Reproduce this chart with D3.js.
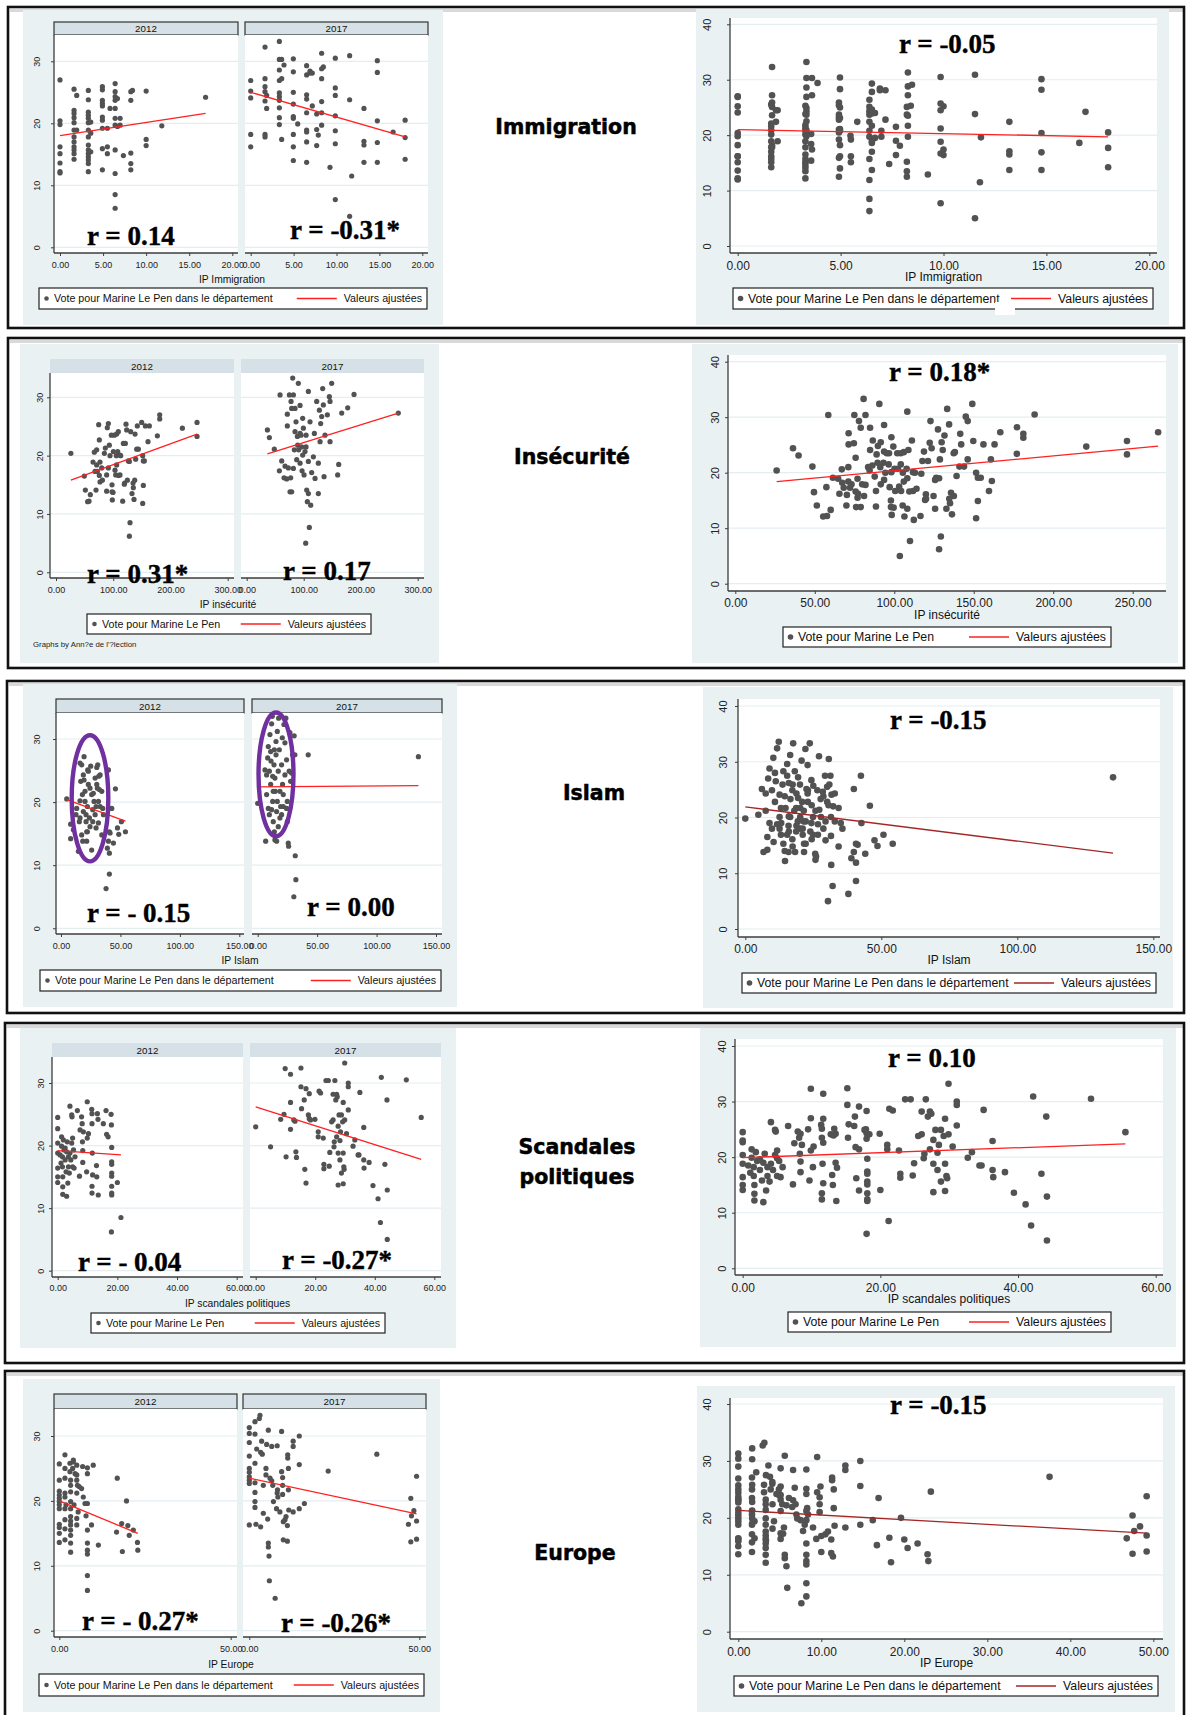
<!DOCTYPE html>
<html><head><meta charset="utf-8">
<script src="https://cdn.jsdelivr.net/npm/d3@7"></script>
<style>body{margin:0;background:#fff}svg{display:block}</style>
</head><body>
<svg id="c" width="1186" height="1715"></svg>
<script>
// ---------------- DATA ----------------
const topicNames = ["Immigration", "Insécurité", "Islam", "Scandales politiques", "Europe"];
const xTitles = ["IP Immigration", "IP insécurité", "IP Islam", "IP scandales politiques", "IP Europe"];
const facetYears = ["2012", "2017"];
const facetYTicks = [0, 10, 20, 30];
const combinedYTicks = [0, 10, 20, 30, 40];
const legendLong = "Vote pour Marine Le Pen dans le département";
const legendShort = "Vote pour Marine Le Pen";
const legendFit = "Valeurs ajustées";
const graphsNote = "Graphs by Ann?e de l'?lection";

const immigrationTicks = [0, 5, 10, 15, 20];
const insecuriteFacetTicks = [0, 100, 200, 300];
const insecuriteTicks = [0, 50, 100, 150, 200, 250];
const islamTicks = [0, 50, 100, 150];
const scandalesTicks = [0, 20, 40, 60];
const europeFacetTicks = [0, 50];
const europeTicks = [0, 10, 20, 30, 40, 50];

// r labels: [2012, 2017, all]
const immigrationR = ["r = 0.14", "r = -0.31*", "r = -0.05"];
const insecuriteR = ["r = 0.31*", "r = 0.17", "r = 0.18*"];
const islamR = ["r = - 0.15", "r = 0.00", "r = -0.15"];
const scandalesR = ["r = - 0.04", "r = -0.27*", "r = 0.10"];
const europeR = ["r = - 0.27*", "r = -0.26*", "r = -0.15"];

// fitted values at min and max x: [2012, 2017, all]
const immigrationFit = [[18.0, 21.6], [25.0, 17.8], [21.0, 19.7]];
const insecuriteFit = [[15.8, 23.7], [20.3, 27.3], [18.4, 24.8]];
const islamFit = [[20.4, 17.0], [22.4, 22.6], [21.9, 13.6]];
const scandalesFit = [[19.2, 18.5], [26.2, 17.8], [19.9, 22.4]];
const europeFit = [[20.0, 15.0], [23.5, 18.0], [21.3, 17.3]];

// circled clusters (Islam): [cx, cy, rx, ry] in data units
const islamEllipses = [[24.4, 20.6, 15.4, 10.0], [15.4, 24.4, 14.7, 9.8]];

const immigration2012 = [[0,27.0],[0,20.4],[0,19.8],[0,16.2],[0,15.1],[0,13.6],[0,12.2],[0,12.0],
[1.63,25.5],[1.63,22.1],[1.63,21.6],[1.63,20.9],[1.63,20.1],[1.63,18.9],[1.63,17.8],[1.63,17.0],[1.63,16.2],[1.63,15.7],[1.63,15.1],[1.63,14.2],[1.94,24.5],[1.94,18.9],
[3.29,25.3],[3.29,23.8],[3.29,21.8],[3.29,21.3],[3.29,20.8],[3.29,20.1],[3.29,18.9],[3.29,17.8],[3.29,16.5],[3.29,15.7],[3.29,15.1],[3.29,14.6],[3.29,14.1],[3.29,13.5],[3.29,12.2],[3.57,18.4],[3.57,20.2],[3.57,15.4],
[4.92,25.9],[4.92,25.4],[4.92,23.7],[4.92,23.2],[4.92,22.8],[4.92,21.0],[4.92,20.5],[4.92,19.2],[4.92,15.9],[4.92,12.5],[5.5,19.2],[5.5,16.2],[5.5,15.1],[5.81,22.4],
[6.4,26.4],[6.4,25.1],[6.4,24.3],[6.4,23.7],[6.4,22.4],[6.4,20.8],[6.4,19.7],[6.4,15.7],[6.4,11.9],[6.4,8.5],[6.4,6.3],[6.67,24.0],[6.67,19.5],[6.98,20.8],[6.98,19.7],[7.36,14.8],
[8.22,25.1],[8.22,23.7],[8.22,15.2],[8.22,13.5],[8.22,12.5],[8.41,25.3],
[10.0,25.2],[10.0,17.4],[10.0,16.4],[11.82,19.6],[16.9,24.2]];
const immigration2017 = [[0,26.9],[0,25.2],[0,24.1],[0,18.2],[0,16.2],
[1.67,32.3],[1.67,27.2],[1.67,25.9],[1.67,25.1],[1.67,23.6],[1.67,18.2],[1.67,17.8],[1.86,22.4],[1.86,24.5],
[3.34,33.2],[3.34,30.3],[3.34,28.6],[3.34,26.9],[3.34,24.9],[3.34,24.3],[3.34,23.7],[3.34,22.5],[3.34,20.9],[3.34,19.8],[3.61,30.3],[3.61,27.2],[3.61,17.4],[3.88,29.4],
[4.97,30.4],[4.97,28.3],[4.97,25.0],[4.97,23.1],[4.97,21.1],[4.97,20.8],[4.97,18.2],[4.97,16.2],[4.97,14.0],[5.48,19.9],
[6.52,29.3],[6.52,27.8],[6.52,24.6],[6.52,23.9],[6.52,21.7],[6.52,18.9],[6.52,18.6],[6.52,17.0],[6.52,13.7],[6.91,28.4],[6.91,28.1],[7.18,28.1],[7.18,22.8],
[7.69,21.5],[7.69,19.0],[7.69,16.4],[7.88,18.1],
[8.27,31.3],[8.27,28.8],[8.27,27.2],[8.27,23.5],[8.27,21.7],[8.27,19.7],[8.47,29.1],
[9.24,12.9],
[9.86,30.5],[9.86,25.7],[9.86,24.5],[9.86,21.2],[9.86,18.8],[9.86,16.7],[9.86,7.7],
[11.53,30.9],[11.53,23.8],[11.53,5.0],[11.77,11.5],
[13.2,22.4],[13.2,17.1],[13.2,16.5],[13.2,13.7],
[14.76,30.1],[14.76,28.2],[14.76,20.4],[14.76,16.9],[14.76,13.7],
[16.6,18.6],[18.0,20.5],[18.0,17.7],[18.0,14.2]];

const insecurite2012 = [[26,20.4],[49.5,16.5],[51.3,14.1],[55.3,12.1],[57.7,12.2],[60,13.3],[64.7,18.9],[67,20.6],[68.2,17.3],[69.9,14.1],[71.1,21.0],[71.1,18.4],[72.2,17.3],[74.6,25.3],[75.7,22.7],[75.7,16.6],[76.9,15.5],[76.9,18.9],[79.8,17.9],[81,15.8],[84.5,20.4],[86.2,21.3],[88.5,13.9],[88.5,16.7],[89.7,24.8],[91.5,25.5],[91.5,17.9],[93.2,21.8],[94.4,20.0],[96.7,23.5],[97.9,13.8],[97.9,15.0],[98.4,12.4],[99.6,13.7],[100.2,20.7],[101.9,23.5],[103.1,17.5],[104.3,16.7],[105.4,20.0],[106,23.7],[106,18.4],[107.8,20.7],[108.9,24.1],[109.5,16.6],[111.8,20.1],[111.8,16.7],[113,20.0],[116.5,12.2],[117.7,22.1],[119.4,15.1],[120,15.3],[121.2,22.1],[122.3,25.4],[123.5,24.4],[124.7,15.8],[126.4,19.1],[128.2,19.0],[129.3,8.5],[128.2,6.2],[130.5,24.1],[132.8,13.5],[134.6,15.3],[135.1,14.5],[136.3,12.5],[137.5,15.8],[138.1,23.7],[139.2,19.4],[141,21.1],[142.1,25.1],[143.9,21.1],[149.7,25.7],[151.5,20.0],[151.5,11.8],[152.6,14.9],[152.6,19.1],[154.4,19.1],[156.1,25.1],[160.8,22.4],[163.1,25.1],[177.1,23.4],[181.2,26.3],[181.2,27.0],[220.8,24.7],[246.4,25.7],[246.4,23.3]];
const insecurite2017 = [[36.3,24.4],[39.8,23.1],[48.5,21.1],[58.5,30.4],[57.3,17.4],[61.4,19.1],[65.5,16.2],[67.3,18.2],[70.2,16.0],[71.3,25.1],[71.3,27.1],[73.1,17.9],[74.9,30.4],[76,13.8],[77.2,16.2],[77.8,29.3],[78.9,28.1],[78.9,13.8],[80.7,33.3],[81.9,30.4],[81.9,17.8],[83.6,21.0],[84.8,28.1],[84.8,24.1],[86.5,25.8],[87.7,19.3],[88.9,23.3],[89.5,21.8],[90.6,32.4],[91.2,21.0],[93.6,28.6],[93.6,23.8],[93.6,18.7],[95.3,23.5],[96.5,21.5],[97.1,17.4],[98.2,20.1],[98.2,26.4],[99.4,24.7],[100.6,16.7],[102.3,20.7],[104.1,23.5],[104.1,21.5],[105.3,14.1],[106.4,12.1],[108.2,31.0],[108.2,19.0],[108.2,13.5],[109.9,7.7],[103.5,5.0],[111.1,25.8],[112.3,11.5],[114,17.1],[117,19.8],[118.7,23.8],[119.9,16.1],[122.8,29.3],[125.7,18.7],[125.7,13.5],[127.5,27.8],[128.7,22.4],[129.8,25.5],[131.6,26.7],[133.3,31.5],[134.5,28.7],[135.7,16.4],[137.4,23.5],[141.5,27.0],[145,30.1],[146.2,29.3],[146.2,22.4],[149.1,32.4],[161.4,18.5],[159.6,16.7],[166.7,27.3],[177.2,28.2],[188.3,30.5],[266,27.3]];

const islam2012 = [[4.8,20.5],[8.1,16.5],[8.1,14.2],[10.4,15.6],[12.6,18.0],[13.2,19.0],[14.6,12.2],[15.4,16.9],[16,26.2],[16,20.2],[16,17.5],[16.6,23.3],[17.4,25.9],[17.4,14.8],[18,21.2],[18.3,13.8],[18.8,18.5],[18.8,24.3],[19.4,27.2],[19.4,23.5],[20.2,21.7],[20.2,20.1],[21.1,16.9],[21.1,18.0],[21.6,15.3],[21.6,13.8],[22.2,19.3],[22.2,15.3],[22.5,25.1],[23,22.8],[23,24.9],[23.9,17.5],[24.4,16.1],[24.4,22.2],[25,25.7],[25.8,12.4],[25.8,21.2],[26.7,18.8],[26.7,16.9],[27.2,21.4],[27.8,20.1],[28.7,23.8],[28.7,18.0],[29.5,15.9],[29.5,19.3],[30.1,25.5],[30.1,22.8],[30.6,22.2],[30.9,25.9],[31.5,16.7],[31.5,20.1],[31.7,24.1],[32.3,22.0],[32.9,19.3],[32.9,24.3],[34.3,14.8],[34.3,21.7],[35.1,19.0],[35.7,18.0],[37.9,6.3],[39,12.7],[39.9,25.1],[39.9,13.8],[40.7,11.9],[40.7,15.3],[40.7,8.6],[41.3,15.1],[42.7,19.0],[44.1,13.5],[45.8,22.1],[47.5,15.9],[48.6,14.9],[50.8,16.9],[54.2,15.3]];
const islam2017 = [[0,19.8],[6.1,25.1],[6.7,13.8],[7.5,24.3],[7.5,21.2],[8.4,27.0],[8.9,28.8],[8.9,19.0],[9.8,24.9],[9.8,18.0],[10.3,30.7],[10.9,22.8],[10.9,28.0],[11.2,26.5],[11.7,32.4],[11.7,18.8],[12.3,33.6],[12.6,20.1],[12.6,24.1],[13.1,16.9],[13.1,21.7],[13.7,25.9],[14,28.3],[14,15.3],[14.5,23.8],[14.5,14.0],[14.8,21.7],[15.4,29.6],[15.4,27.5],[15.9,18.5],[15.9,13.8],[16.5,31.2],[16.5,20.1],[17.3,24.9],[17.3,16.1],[17.6,33.3],[18.2,28.3],[18.7,21.7],[18.7,17.5],[19.3,19.3],[20.1,25.9],[20.1,18.0],[20.7,30.2],[20.9,22.8],[21.5,19.3],[21.5,21.2],[22.1,32.3],[22.9,29.4],[22.9,24.3],[23.7,33.3],[24.3,26.7],[24.3,19.0],[24.9,16.9],[24.9,20.1],[25.7,13.5],[26,13.0],[26.5,24.9],[27.1,31.0],[27.7,23.3],[28.5,24.6],[29.3,27.5],[30.4,5.0],[30.7,30.5],[31.3,27.5],[31.6,11.5],[32.1,7.7],[42.5,27.5],[135.2,27.2]];

const scandales2012 = [[0,24.5],[0,22.7],[0,20.4],[0,18.8],[0,16.4],[0,15.0],[0,14.1],[0.8,18.5],[1.1,17.2],[1.3,21.4],[1.3,19.9],[1.6,18.2],[1.6,16.6],[1.7,15.0],[1.7,13.4],[1.7,12.2],[1.9,20.9],[2.1,19.3],[2.5,19.6],[2.5,17.7],[2.8,15.8],[3.0,11.9],[3.0,19.0],[3.2,20.6],[3.4,14.0],[3.6,18.2],[3.6,16.6],[3.9,15.6],[4.1,26.3],[4.1,18.8],[4.4,17.7],[4.7,24.9],[4.7,20.4],[4.8,24.6],[5.0,21.2],[5.0,16.6],[5.3,19.3],[5.5,16.4],[5.8,18.2],[6.6,25.6],[7.3,15.1],[7.5,22.5],[8.0,24.6],[8.2,23.5],[8.3,20.6],[8.4,19.2],[8.4,17.3],[8.6,22.2],[9.7,15.8],[9.9,27.0],[9.9,21.2],[10.3,21.9],[11.4,25.8],[11.5,25.1],[11.5,23.5],[11.6,18.8],[11.7,15.3],[11.5,13.5],[11.5,12.4],[13.0,16.8],[13.1,15.0],[13.3,25.1],[13.5,24.2],[13.6,12.1],[15.3,23.5],[16.2,25.6],[16.4,21.8],[16.9,21.4],[17.9,25.0],[18.0,23.3],[18.1,19.7],[18.1,17.4],[18.1,17.0],[18.1,15.6],[18.1,15.1],[18.1,13.5],[18.1,12.4],[18.1,12.1],[20.0,14.1],[18.0,6.2],[21.2,8.5]];
const scandales2017 = [[0,23.0],[5.0,19.8],[8.4,24.2],[9.5,25.0],[9.9,32.3],[10.2,18.2],[11.7,31.4],[11.7,26.9],[11.7,22.6],[12.8,24.1],[13.2,23.9],[13.5,19.0],[13.7,18.1],[15.2,32.4],[15.2,29.4],[15.4,25.9],[16.3,27.3],[16.5,16.2],[16.9,29.1],[16.9,14.0],[17.7,24.9],[18.0,28.3],[18.0,24.3],[18.4,24.1],[19.9,24.2],[21.0,22.2],[21.3,28.7],[21.8,28.4],[21.0,21.4],[22.7,21.2],[22.9,17.0],[22.9,16.3],[23.6,30.4],[24.4,30.4],[24.7,16.7],[24.9,18.9],[25.5,23.8],[26.0,28.2],[26.0,24.1],[26.3,19.8],[26.4,20.6],[26.6,30.4],[26.9,27.3],[27.2,28.2],[27.2,21.4],[27.4,27.8],[27.7,23.1],[27.7,18.8],[27.7,13.7],[28.0,24.9],[28.3,17.7],[28.3,20.8],[28.5,22.2],[28.8,24.9],[28.8,15.6],[29.2,23.8],[29.4,26.9],[29.4,18.8],[29.4,13.9],[29.6,16.6],[29.7,16.2],[29.9,33.2],[29.9,24.1],[30.5,21.9],[31.1,30.0],[31.1,29.4],[31.1,25.7],[32.7,19.9],[33.3,20.9],[34.4,18.5],[34.7,18.5],[35.0,28.5],[36.3,22.9],[36.3,17.7],[36.4,16.4],[38.1,17.3],[39.4,13.6],[41.1,11.5],[41.9,7.7],[42.2,30.9],[43.4,17.0],[44.1,27.3],[44.2,12.9],[44.2,5.0],[50.6,30.5],[55.6,24.5]];

const europe2012 = [[0,25.7],[0,23.2],[0,21.5],[0,20.9],[0,20.4],[0,19.9],[0,19.4],[0,18.8],[0,16.4],[0,15.9],[0,15.0],[0,13.6],[1.65,27.1],[1.65,25.0],[1.65,23.5],[1.65,21.2],[1.65,20.6],[1.65,18.8],[1.65,17.1],[1.65,15.7],[1.65,14.0],[1.95,19.4],[3.1,25.8],[3.1,24.5],[3.3,23.2],[3.3,22.4],[3.3,21.4],[3.3,19.9],[3.3,18.8],[3.3,17.6],[3.3,16.9],[3.3,16.3],[3.3,15.5],[3.3,14.7],[3.3,13.5],[3.3,12.1],[3.9,25.0],[4.1,26.0],[4.1,26.3],[4.3,19.4],[4.6,24.2],[5.1,25.5],[5.1,24.0],[5.1,23.2],[5.1,21.2],[5.1,17.3],[5.1,16.3],[5.5,18.3],[5.3,22.4],[5.8,22.2],[6.5,21.9],[6.8,25.3],[7.0,20.6],[7.5,19.6],[7.8,17.7],[8.2,25.1],[8.2,24.2],[8.2,19.6],[8.2,15.5],[8.2,13.5],[8.2,12.4],[8.2,11.8],[8.2,8.5],[8.2,6.2],[9.4,16.3],[9.9,25.5],[11.4,13.2],[16.7,15.2],[16.9,23.5],[18.2,16.5],[18.4,12.2],[19.6,20.0],[20.0,16.2],[20.4,14.7],[21.6,15.5],[22.8,13.6],[22.9,12.4]];
const europe2017 = [[0,31.3],[0,30.4],[0,29.0],[0,26.9],[0,25.0],[0,24.4],[0,23.7],[0,23.2],[0,22.7],[0,16.3],[1.67,32.2],[1.67,30.3],[1.67,25.8],[1.67,22.8],[1.67,21.3],[1.67,19.9],[1.67,19.0],[1.96,16.4],[2.16,28.0],[2.94,32.7],[3.14,33.2],[3.33,27.5],[3.33,16.0],[3.63,29.2],[3.82,27.2],[4.12,22.4],[4.12,18.1],[4.9,25.0],[4.9,24.0],[5.1,28.7],[5.4,17.2],[5.6,30.9],[5.6,13.5],[5.6,12.9],[5.8,11.5],[5.9,7.7],[6.1,23.5],[6.6,23.1],[6.6,28.4],[6.9,22.4],[7.1,19.9],[7.6,5.0],[8.0,18.8],[8.2,28.5],[8.2,21.2],[8.3,21.7],[8.4,20.6],[9.0,18.3],[9.5,30.7],[9.5,24.5],[9.8,22.4],[9.8,21.0],[9.8,23.6],[10.0,14.0],[10.0,16.8],[10.5,17.1],[10.8,17.6],[11.2,13.8],[11.2,16.2],[11.3,27.1],[11.3,26.6],[11.5,25.0],[11.5,21.7],[11.6,18.6],[12.9,18.3],[12.9,28.4],[12.9,29.2],[14.7,25.6],[14.7,30.0],[14.7,18.8],[16.2,19.6],[23.2,24.6],[37.5,27.2],[46.8,16.4],[47.5,13.7],[47.5,20.4],[47.7,17.7],[48.4,18.5],[49.2,23.8],[49.2,16.9],[49.2,14.1]];

// ---------------- DRAWING ----------------
const svg = d3.select("#c");
const SANS = "'Liberation Sans', Arial, sans-serif";
const SERIF = "'Liberation Serif', 'Times New Roman', serif";
const DOT = "#525252";
const AX = "#3c3c3c";
const GRID = "#e4edf0";
const BG = "#eaf1f3";
const HEAD = "#d5e1e7";
const RED = "#ff2020";
const DARKRED = "#a32727";
const fmt = d3.format(".2f");

function rect(g, b, fill, stroke, sw) {
  return g.append("rect").attr("x", b[0]).attr("y", b[1]).attr("width", b[2]-b[0]).attr("height", b[3]-b[1])
    .attr("fill", fill).attr("stroke", stroke || "none").attr("stroke-width", sw || 1);
}

function drawPanel(g, o) {
  const [l, t, r, b] = o.plot;
  const x = d3.scaleLinear().domain([0, o.xMax]).range(o.xPx);
  const y = d3.scaleLinear().domain([0, o.yTop]).range(o.yPx);
  if (o.header) {
    rect(g, [l, o.header.top, r, t], HEAD, o.header.border ? "#333" : null, 1.2);
    g.append("text").attr("x", (l+r)/2).attr("y", (o.header.top+t)/2).attr("dy", "0.36em")
      .attr("text-anchor", "middle").attr("font-family", SANS).attr("font-size", 9.8).attr("fill", "#111").text(o.header.text);
  }
  rect(g, o.plot, "#fff");
  g.selectAll(null).data(o.yTicks).enter().append("line")
    .attr("x1", l).attr("x2", r).attr("y1", d => y(d)).attr("y2", d => y(d))
    .attr("stroke", GRID).attr("stroke-width", 1.2);
  g.selectAll(null).data(o.data).enter().append("circle")
    .attr("cx", d => x(d[0])).attr("cy", d => y(d[1])).attr("r", o.dotR).attr("fill", DOT);
  const ext = d3.extent(o.data, d => d[0]);
  g.append("line").attr("x1", x(ext[0])).attr("y1", y(o.fit[0])).attr("x2", x(ext[1])).attr("y2", y(o.fit[1]))
    .attr("stroke", o.fitColor).attr("stroke-width", 1.3);
  if (o.ellipse) {
    const e = o.ellipse;
    g.append("ellipse").attr("cx", x(e[0])).attr("cy", y(e[1]))
      .attr("rx", x(e[2]) - x(0)).attr("ry", y(0) - y(e[3]))
      .attr("fill", "none").attr("stroke", "#7030a0").attr("stroke-width", 4.4);
  }
  const xa = g.append("g").attr("transform", `translate(0,${b})`)
    .call(d3.axisBottom(x).tickValues(o.xTicks).tickFormat(fmt).tickSize(3).tickSizeOuter(0));
  xa.select(".domain").remove();
  xa.selectAll(".tick line").attr("stroke", AX);
  xa.selectAll(".tick text").attr("y", o.tickBase - b).attr("dy", 0)
    .attr("font-family", SANS).attr("font-size", o.tickFont).attr("fill", "#222");
  g.append("line").attr("x1", l).attr("x2", r).attr("y1", b).attr("y2", b).attr("stroke", AX).attr("stroke-width", 1.3);
  if (o.yAxis) {
    const ya = g.append("g").attr("transform", `translate(${l},0)`)
      .call(d3.axisLeft(y).tickValues(o.yTicks).tickFormat(d3.format("d")).tickSize(3).tickSizeOuter(0));
    ya.select(".domain").remove();
    ya.selectAll(".tick line").attr("stroke", AX);
    ya.selectAll(".tick text").attr("x", 0).attr("y", 0).attr("dy", "0.36em").attr("text-anchor", "middle")
      .attr("transform", `translate(${o.yLabelX - l},0) rotate(-90)`)
      .attr("font-family", SANS).attr("font-size", o.yFont).attr("fill", "#222");
    g.append("line").attr("x1", l).attr("x2", l).attr("y1", t).attr("y2", b).attr("stroke", AX).attr("stroke-width", 1.3);
  }
  g.append("text").attr("x", o.rPos[0]).attr("y", o.rPos[1]).attr("font-family", SERIF).attr("font-weight", "bold")
    .attr("font-size", 27).attr("fill", "#000").attr("stroke", "#000").attr("stroke-width", 0.4).text(o.rText);
}

function drawLegend(g, box, label, font, lineColor, dotR) {
  rect(g, box, "#fff", "#222", 1.2);
  const cy = (box[1] + box[3]) / 2;
  g.append("circle").attr("cx", box[0] + 7.5).attr("cy", cy).attr("r", dotR).attr("fill", DOT);
  g.append("text").attr("x", box[0] + 15).attr("y", cy).attr("dy", "0.36em").attr("font-family", SANS)
    .attr("font-size", font).attr("fill", "#111").text(label);
  const t = g.append("text").attr("x", box[2] - 5).attr("y", cy).attr("dy", "0.36em").attr("text-anchor", "end")
    .attr("font-family", SANS).attr("font-size", font).attr("fill", "#111").text(legendFit);
  const start = box[2] - 5 - t.node().getComputedTextLength();
  g.append("line").attr("x1", start - 47).attr("x2", start - 7).attr("y1", cy).attr("y2", cy)
    .attr("stroke", lineColor).attr("stroke-width", 1.3);
}

const rows = [
  { d12: immigration2012, d17: immigration2017, fit: immigrationFit, r: immigrationR,
    border: [8, 7, 1184, 328], bgL: [23, 10, 443, 325], bgR: [696, 9, 1169, 325],
    headTop: 22, headBorder: true, facets: [[54, 35, 238, 253], [245, 35, 428, 253]],
    fxPx: [[60, 232.3], [250.7, 422.3]], fxMax: 20, fTicks: immigrationTicks, fyPx: [247.3, 61.3], fyLabelX: 37,
    fTickBase: 267.5, fTitleBase: 282.5, rPosL: [[87, 245], [290, 239]],
    legL: [39, 288, 427, 309], legLabelL: legendLong,
    cPlot: [730, 18, 1157, 253], cxPx: [737.7, 1149.3], cxMax: 20, cTicks: immigrationTicks, cyPx: [246, 24.3], cyLabelX: 707,
    cTickBase: 270, cTitleBase: 280.5, cR: [899, 53], cFitColor: RED, legR: [733, 288, 1153, 309], legLabelR: legendLong,
    mid: [566, [134]] },
  { d12: insecurite2012, d17: insecurite2017, fit: insecuriteFit, r: insecuriteR,
    border: [8, 338, 1184, 668], bgL: [20, 344, 439, 663], bgR: [692, 344, 1178, 663],
    headTop: 359, headBorder: false, facets: [[50, 373, 234, 578], [241, 373, 424, 578]],
    fxPx: [[56, 227.7], [246.7, 417.7]], fxMax: 300, fTicks: insecuriteFacetTicks, fyPx: [572.3, 397.3], fyLabelX: 40,
    fTickBase: 592.5, fTitleBase: 607.5, rPosL: [[87, 583], [283, 580]],
    legL: [87, 614, 371, 634], legLabelL: legendShort, note: [33, 647],
    cPlot: [728, 355, 1166, 591], cxPx: [735.3, 1132.7], cxMax: 250, cTicks: insecuriteTicks, cyPx: [583.7, 361.7], cyLabelX: 715,
    cTickBase: 607, cTitleBase: 618.5, cR: [889, 381], cFitColor: RED, legR: [783, 627, 1111, 647], legLabelR: legendShort,
    mid: [572, [464]] },
  { d12: islam2012, d17: islam2017, fit: islamFit, r: islamR, ell: islamEllipses,
    border: [7, 681, 1184, 1013], bgL: [23, 684, 457, 1007], bgR: [703, 687, 1173, 1008],
    headTop: 699, headBorder: true, facets: [[56, 713, 244, 934], [252, 713, 442, 934]],
    fxPx: [[61, 239.3], [257.7, 436]], fxMax: 150, fTicks: islamTicks, fyPx: [928.3, 739], fyLabelX: 37,
    fTickBase: 949, fTitleBase: 963.5, rPosL: [[87, 922], [307, 916]],
    legL: [40, 970, 441, 991], legLabelL: legendLong,
    cPlot: [738, 699, 1160, 937], cxPx: [745.3, 1153.3], cxMax: 150, cTicks: islamTicks, cyPx: [929, 706], cyLabelX: 723,
    cTickBase: 953, cTitleBase: 964, cR: [890, 729], cFitColor: DARKRED, legR: [742, 973, 1156, 993], legLabelR: legendLong,
    mid: [594, [800]] },
  { d12: scandales2012, d17: scandales2017, fit: scandalesFit, r: scandalesR,
    border: [5, 1023, 1184, 1363], bgL: [20, 1028, 456, 1348], bgR: [700, 1028, 1176, 1347],
    headTop: 1043, headBorder: false, facets: [[52, 1057, 243, 1277], [250, 1057, 441, 1277]],
    fxPx: [[57.7, 236.7], [255.7, 434.3]], fxMax: 60, fTicks: scandalesTicks, fyPx: [1270.7, 1083], fyLabelX: 41,
    fTickBase: 1290.5, fTitleBase: 1306.5, rPosL: [[78, 1271], [282, 1269]],
    legL: [91, 1313, 385, 1333], legLabelL: legendShort,
    cPlot: [735, 1039, 1163, 1275], cxPx: [742.7, 1155.7], cxMax: 60, cTicks: scandalesTicks, cyPx: [1268.3, 1046], cyLabelX: 722,
    cTickBase: 1292, cTitleBase: 1303, cR: [888, 1067], cFitColor: RED, legR: [788, 1312, 1111, 1332], legLabelR: legendShort,
    mid: [577, [1154, 1184]] },
  { d12: europe2012, d17: europe2017, fit: europeFit, r: europeR,
    border: [5, 1371, 1184, 1722], bgL: [23, 1379, 440, 1712], bgR: [697, 1386, 1175, 1712],
    headTop: 1394, headBorder: true, facets: [[54, 1409, 237, 1637], [243, 1409, 426, 1637]],
    fxPx: [[59.3, 230.7], [249.3, 419.3]], fxMax: 50, fTicks: europeFacetTicks, fyPx: [1630.7, 1436], fyLabelX: 37,
    fTickBase: 1651.5, fTitleBase: 1667.5, rPosL: [[82, 1630], [281, 1632]],
    legL: [39, 1674, 424, 1696], legLabelL: legendLong,
    cPlot: [730, 1398, 1163, 1639], cxPx: [738.3, 1153.3], cxMax: 50, cTicks: europeTicks, cyPx: [1631.7, 1404], cyLabelX: 707,
    cTickBase: 1656, cTitleBase: 1667, cR: [890, 1414], cFitColor: DARKRED, legR: [734, 1676, 1158, 1696], legLabelR: legendLong,
    mid: [575, [1560]] }
];

rows.forEach((row, i) => {
  const g = svg.append("g");
  // frame with soft shadow
  g.append("line").attr("x1", row.border[0] + 2).attr("x2", row.border[2]).attr("y1", row.border[1] + 3.5).attr("y2", row.border[1] + 3.5)
    .attr("stroke", "#d9d9d9").attr("stroke-width", 3);
  rect(g, row.border, "none", "#111", 2.6);
  rect(g, row.bgL, BG);
  rect(g, row.bgR, BG);
  const facetData = [row.d12, row.d17];
  facetData.forEach((data, k) => {
    drawPanel(g, {
      plot: row.facets[k], header: { top: row.headTop, border: row.headBorder, text: facetYears[k] },
      data: data, xMax: row.fxMax, xPx: row.fxPx[k], yTop: 30, yPx: row.fyPx,
      xTicks: row.fTicks, yTicks: facetYTicks, dotR: 2.6, fit: row.fit[k], fitColor: RED,
      ellipse: row.ell ? row.ell[k] : null, tickBase: row.fTickBase, tickFont: 9,
      yAxis: k === 0, yLabelX: row.fyLabelX, yFont: 9, rPos: row.rPosL[k], rText: row.r[k]
    });
  });
  const fl = row.facets[0][0], fr = row.facets[1][2];
  g.append("text").attr("x", (fl + fr) / 2 - 9).attr("y", row.fTitleBase).attr("text-anchor", "middle")
    .attr("font-family", SANS).attr("font-size", 10.3).attr("fill", "#111").text(xTitles[i]);
  drawLegend(g, row.legL, row.legLabelL, 10.7, RED, 2.3);
  if (row.note) {
    g.append("text").attr("x", row.note[0]).attr("y", row.note[1]).attr("font-family", SANS)
      .attr("font-size", 7.8).attr("fill", "#222").text(graphsNote);
  }
  drawPanel(g, {
    plot: row.cPlot, data: row.d12.concat(row.d17), xMax: row.cxMax, xPx: row.cxPx, yTop: 40, yPx: row.cyPx,
    xTicks: row.cTicks, yTicks: combinedYTicks, dotR: 3.3, fit: row.fit[2], fitColor: row.cFitColor,
    tickBase: row.cTickBase, tickFont: 12, yAxis: true, yLabelX: row.cyLabelX, yFont: 11,
    rPos: row.cR, rText: row.r[2]
  });
  g.append("text").attr("x", (row.cPlot[0] + row.cPlot[2]) / 2).attr("y", row.cTitleBase).attr("text-anchor", "middle")
    .attr("font-family", SANS).attr("font-size", 12).attr("fill", "#111").text(xTitles[i]);
  drawLegend(g, row.legR, row.legLabelR, 12.3, row.cFitColor, 2.8);
  if (i === 0) rect(g, [995, 302, 1015, 315], "#fff");
  const words = row.mid[1].length > 1 ? topicNames[i].split(" ") : [topicNames[i]];
  words.forEach((w, j) => {
    g.append("text").attr("x", row.mid[0]).attr("y", row.mid[1][j]).attr("text-anchor", "middle")
      .attr("font-family", "'DejaVu Sans', Verdana, sans-serif").attr("font-weight", "bold")
      .attr("font-size", 20.5).attr("fill", "#000").attr("stroke", "#000").attr("stroke-width", 0.5).text(w);
  });
});
</script>
</body></html>
